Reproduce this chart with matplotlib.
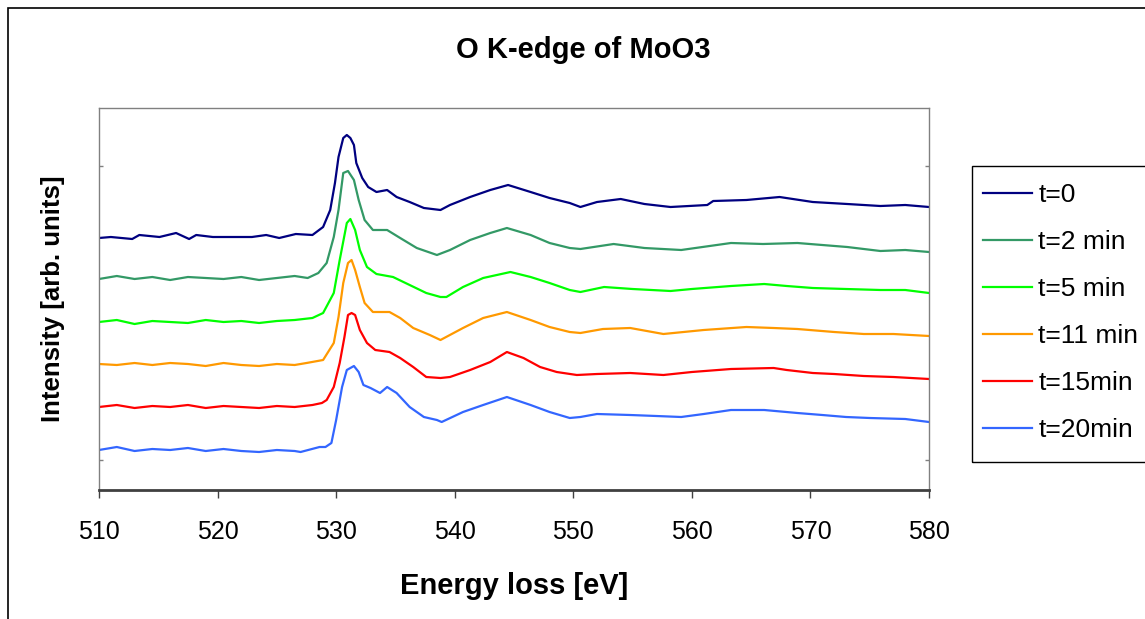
import matplotlib
matplotlib.use("Agg")
import matplotlib.pyplot as plt
from matplotlib.patches import Rectangle

plt.rcParams["font.family"] = ["Liberation Sans", "DejaVu Sans"]

# Energy loss (eV) and intensity (arb. units)
e_t0 = [510, 511, 512.8, 513.4, 515.1, 516.5, 517.6, 518.2, 519.6, 521.2, 522.9, 524.1, 525.2, 526.6, 528.0,
        528.9, 529.5, 529.9, 530.2, 530.6, 530.9, 531.2, 531.5, 531.7, 532.2, 532.7, 533.4, 534.3, 535.1,
        536.2, 537.4, 538.8, 539.6, 541.3, 543.0, 544.5, 546.4, 548.0, 549.7, 550.6, 552, 554, 556, 558.2,
        561.3, 561.8, 564.6, 567.4, 570.2, 573.1, 575.9, 578, 580]
i_t0 = [222, 223, 221, 225, 223, 227, 221, 225, 223, 223, 223, 225, 222, 226, 225,
        233, 250, 277, 303, 322, 325, 322, 315, 297, 282, 273, 268, 270, 263,
        258, 252, 250, 255, 263, 270, 275, 268, 262, 257, 253, 258, 261, 256, 253,
        255, 259, 260, 263, 258, 256, 254, 255, 253]

e_t2 = [510, 511.5, 513, 514.5, 516, 517.5, 519, 520.5, 522, 523.5, 525, 526.5, 527.6, 528.5, 529.2,
        529.8, 530.2, 530.6, 531.0, 531.5, 531.9, 532.4, 533.1, 534.3, 535.4, 536.8, 538.5, 539.6, 541.3,
        543.0, 544.4, 546.4, 548.0, 549.7, 550.6, 553.4, 556, 559.1, 563.3, 566, 568.9, 571, 573.1, 575.9,
        578, 580]
i_t2 = [181, 184, 181, 183, 180, 183, 182, 181, 183, 180, 182, 184, 182, 187, 197,
        223, 250, 287, 289, 280, 260, 240, 230, 230, 222, 212, 205, 210, 220,
        227, 232, 225, 217, 212, 211, 216, 212, 210, 217, 216, 217, 215, 213, 209,
        210, 208]

e_t5 = [510, 511.5, 513, 514.5, 516, 517.5, 519, 520.5, 522, 523.5, 525, 526.5, 528.0, 528.9, 529.8,
        530.3, 530.9, 531.2, 531.6, 532.0, 532.6, 533.4, 534.8, 536.2, 537.6, 538.8, 539.3, 540.7, 542.4,
        544.7, 546.4, 548.0, 549.7, 550.6, 552.6, 555, 558.2, 560, 563.3, 566.1, 568, 570.2, 573, 575.9,
        578, 580]
i_t5 = [138, 140, 136, 139, 138, 137, 140, 138, 139, 137, 139, 140, 142, 147, 167,
        200, 237, 241, 230, 210, 193, 186, 183, 175, 167, 163, 163, 173, 182,
        188, 183, 177, 170, 168, 173, 171, 169, 171, 174, 176, 174, 172, 171, 170,
        170, 167]

e_t11 = [510, 511.5, 513, 514.5, 516, 517.5, 519, 520.5, 522, 523.5, 525, 526.5, 527.5, 528.9, 529.8,
         530.2, 530.6, 531.0, 531.3, 531.6, 532.0, 532.4, 533.1, 534.5, 535.4, 536.5, 537.9, 538.8, 540.7,
         542.4, 544.4, 546.4, 548.0, 549.7, 550.6, 552.5, 554.8, 557.6, 561, 564.6, 566.9, 568.9, 572, 574.5,
         577, 580]
i_t11 = [96, 95, 97, 95, 97, 96, 94, 97, 95, 94, 96, 95, 97, 100, 117,
         143, 177, 197, 200, 190, 173, 157, 148, 148, 142, 132, 125, 120, 132,
         142, 148, 140, 133, 128, 127, 131, 132, 126, 130, 133, 132, 131, 128, 126,
         126, 124]

e_t15 = [510, 511.5, 513, 514.5, 516, 517.5, 519, 520.5, 522, 523.5, 525, 526.5, 528, 528.8, 529.2,
         529.8, 530.3, 530.7, 531.0, 531.3, 531.6, 532.0, 532.6, 533.3, 534.5, 535.4, 536.5, 537.6, 538.8,
         539.6, 541.3, 543.0, 544.4, 545.8, 547.2, 548.6, 550.3, 552, 554.8, 557.6, 560, 563.3, 566.9, 568,
         570.2, 572, 574.5, 577, 580]
i_t15 = [53, 55, 52, 54, 53, 55, 52, 54, 53, 52, 54, 53, 55, 57, 60,
         73, 97, 123, 145, 147, 145, 130, 117, 110, 108, 102, 93, 83, 82,
         83, 90, 98, 108, 102, 93, 88, 85, 86, 87, 85, 88, 91, 92, 90,
         87, 86, 84, 83, 81]

e_t20 = [510, 511.5, 513, 514.5, 516, 517.5, 519, 520.5, 522, 523.5, 525, 526.5, 527, 528.6, 529.1,
         529.6, 530.0, 530.5, 530.9, 531.5, 531.9, 532.3, 532.9, 533.7, 534.3, 535.1, 536.2, 537.4, 538.5,
         538.9, 540.7, 542.4, 544.4, 546.4, 548.0, 549.7, 550.6, 552, 554.8, 557, 559.1, 561, 563.3, 566.1,
         568.9, 571, 573, 575, 578, 580]
i_t20 = [10, 13, 9, 11, 10, 12, 9, 11, 9, 8, 10, 9, 8, 13, 13,
         17, 40, 73, 90, 94, 88, 75, 72, 67, 73, 67, 53, 43, 40,
         38, 48, 55, 63, 55, 48, 42, 43, 46, 45, 44, 43, 46, 50, 50,
         47, 45, 43, 42, 41, 38]

labels = ["t=0", "t=2 min", "t=5 min", "t=11 min", "t=15min", "t=20min"]
colors = ["#000080", "#339966", "#00FF00", "#FF9900", "#FF0000", "#3366FF"]
x_ticks = [510, 520, 530, 540, 550, 560, 570, 580]

fig = plt.figure(figsize=(11.45, 6.19), dpi=100)
ax = fig.add_axes([99 / 1145, 129 / 619, 830 / 1145, 382 / 619])

energies = [e_t0, e_t2, e_t5, e_t11, e_t15, e_t20]
intensities = [i_t0, i_t2, i_t5, i_t11, i_t15, i_t20]
for e, i, c, lab in zip(energies, intensities, colors, labels):
    ax.plot(e, i, color=c, lw=1.6, label=lab)

ax.set_xlim(510, 580)
ax.set_ylim(-30, 352)
ax.set_xticks(x_ticks)
ax.set_yticks([0, 294])
ax.set_yticklabels([])
ax.tick_params(axis="x", direction="out", length=6, width=1, color="#404040",
               labelsize=18, pad=15.5)
ax.tick_params(axis="y", direction="in", length=3, width=1, color="#808080",
               left=True, right=True)

# Excel-like plot area border
for side in ["left", "top", "right"]:
    ax.spines[side].set_color("#808080")
    ax.spines[side].set_linewidth(1)
ax.spines["bottom"].set_color("#404040")
ax.spines["bottom"].set_linewidth(2)

# title is centred on the whole chart, not on the plot area
fig.text(583 / 1145, (619 - 50) / 619, "O K-edge of MoO3", fontsize=21, fontweight="bold",
         ha="center", va="center")
ax.set_xlabel("Energy loss [eV]", fontsize=21, fontweight="bold", labelpad=20)
ax.set_ylabel("Intensity [arb. units]", fontsize=18.5, fontweight="bold", labelpad=21)

# legend without frame, frame drawn separately so it can run off the edge
leg = ax.legend(loc="upper left", bbox_to_anchor=(983 / 1145, (619 - 183) / 619),
                bbox_transform=fig.transFigure, frameon=False, fontsize=19,
                borderpad=0, borderaxespad=0, handlelength=1.85, handletextpad=0.25,
                labelspacing=0.87)
fig.add_artist(Rectangle((972 / 1145, (619 - 462) / 619), 0.2, 296 / 619,
                         transform=fig.transFigure, fill=False, edgecolor="black", lw=1))

# outer chart area border
fig.add_artist(Rectangle((8 / 1145, -0.1), 1.2, (611 / 619) + 0.1,
                         transform=fig.transFigure, fill=False, edgecolor="black", lw=1.2))

fig.savefig("out.png", dpi=100)
